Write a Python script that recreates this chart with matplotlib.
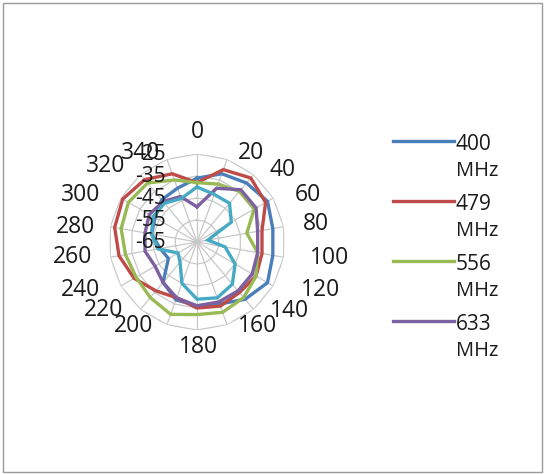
import numpy as np
import matplotlib
matplotlib.use("Agg")
import matplotlib.pyplot as plt
from matplotlib.lines import Line2D
from matplotlib.patches import Rectangle

plt.rcParams['font.family'] = ['Open Sans', 'DejaVu Sans']

angles = [0, 20, 40, 60, 80, 100, 120, 140, 160, 180, 200, 220, 240, 260, 280, 300, 320, 340]
angle_labels = [str(a) for a in angles]

series_names = ["400\nMHz", "479\nMHz", "556\nMHz", "633\nMHz", "710\nMHz"]
s400 = [-36, -32, -30, -28, -30, -30, -28, -31, -35, -36, -37, -41, -50, -48, -44, -43, -40, -39]
s479 = [-38, -30, -27, -29, -35, -35, -34, -35, -34, -35, -38, -36, -32, -29, -27, -26, -28, -32]
s556 = [-38, -37, -35, -35, -42, -37, -34, -32, -31, -32, -30, -32, -33, -32, -30, -29, -30, -35]
s633 = [-49, -39, -34, -34, -37, -37, -36, -36, -36, -36, -38, -41, -43, -41, -41, -40, -41, -43]
s710 = [-40, -42, -42, -47, -60, -52, -45, -40, -38, -39, -45, -53, -55, -47, -44, -42, -42, -44]
series = [s400, s479, s556, s633, s710]
colors = ["#4A7EBB", "#BE4B48", "#98B954", "#7D60A0", "#46AAC5"]

r_ticks = [-65, -55, -45, -35, -25]
r_min, r_max = -65, -25

# label offsets (pixels, x right / y down) from each outer vertex, Excel-style placement
label_off = [(0, -22), (24, -6), (29, -5), (35, -3), (32, -3), (46, 1), (47, 4), (36, 2),
             (30, 1), (1, 17), (-33, 1), (-37, 1), (-40, 4), (-38, 0), (-35, 0), (-40, -3),
             (-35, -9), (-26, -6)]

W, H = 544, 474
fig = plt.figure(figsize=(W / 100, H / 100), dpi=100)
fig.patch.set_facecolor("white")

# chart border
fig.add_artist(Rectangle((2.5 / W, 2.5 / H), (W - 5) / W, (H - 5) / H,
                         transform=fig.transFigure, fill=False,
                         edgecolor="#9A9A9A", linewidth=1.0))

cx, cy, R = 197, 242, 88
ax = fig.add_axes([(cx - R) / W, (H - cy - R) / H, 2 * R / W, 2 * R / H], projection="polar")
ax.set_theta_zero_location("N")
ax.set_theta_direction(-1)
ax.set_ylim(r_min, r_max)
ax.grid(False)
ax.spines["polar"].set_visible(False)
ax.set_yticks([])
ax.set_xticks([])
ax.patch.set_alpha(0)

th = np.deg2rad(angles)
th_closed = np.append(th, th[0])
grid_col = "#C8C8C8"
# ring polygons
for rv in r_ticks[1:]:
    ax.plot(th_closed, [rv] * len(th_closed), color=grid_col, lw=0.9, zorder=1)
# spokes
for t in th:
    ax.plot([t, t], [r_min, r_max], color=grid_col, lw=0.9, zorder=1)

# data
for vals, c in zip(series, colors):
    v = np.append(vals, vals[0])
    ax.plot(th_closed, v, color=c, lw=2.4, zorder=3, solid_joinstyle="miter")

txt_col = "#1A1A1A"
# angle labels
for t, lab, (ox, oy) in zip(th, angle_labels, label_off):
    ax.annotate(lab, xy=(t, r_max), xycoords="data",
                xytext=(ox, -oy), textcoords="offset pixels",
                ha="center", va="center", fontsize=16.5, color=txt_col)

# radial labels
for rv in r_ticks:
    ax.annotate(str(rv), xy=(0, rv), xycoords="data",
                xytext=(-31, 0), textcoords="offset pixels",
                ha="right", va="center", fontsize=15, color=txt_col, zorder=5)

# legend (first four entries)
leg_y = [141, 201, 261, 321]
for i in range(4):
    y = 1 - leg_y[i] / H
    fig.add_artist(Line2D([393 / W, 454 / W], [y, y], transform=fig.transFigure,
                          color=colors[i], lw=2.4))
    top, bottom = series_names[i].split("\n")
    fig.text(456 / W, y - 3 / H, top, transform=fig.transFigure,
             ha="left", va="center", fontsize=15, color=txt_col)
    fig.text(456 / W, y - 30 / H, bottom, transform=fig.transFigure,
             ha="left", va="center", fontsize=14.5, color=txt_col)

fig.savefig("out.png", dpi=100)
